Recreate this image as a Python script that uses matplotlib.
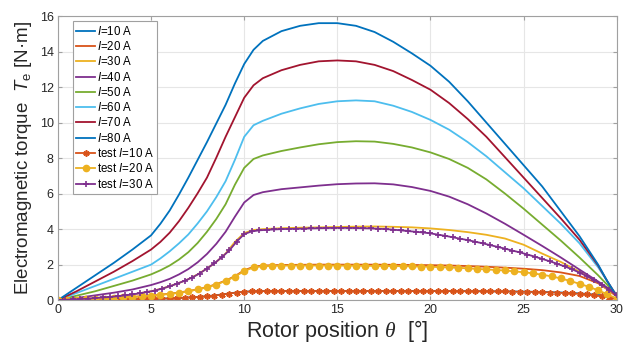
import numpy as np
import matplotlib
matplotlib.use("Agg")
import matplotlib.pyplot as plt

plt.rcParams['font.family'] = ['Liberation Sans', 'DejaVu Sans']
plt.rcParams['mathtext.fontset'] = 'custom'
plt.rcParams['mathtext.rm'] = 'Liberation Sans'
plt.rcParams['mathtext.it'] = 'Liberation Sans:italic'
plt.rcParams['mathtext.cal'] = 'Liberation Serif:italic'

# rotor angle samples for the simulated curves
theta = [0, 1, 2, 3, 4, 5, 5.5, 6, 6.5, 7, 7.5, 8, 8.5, 9, 9.5, 10, 10.5, 11, 12, 13, 14,
         15, 16, 17, 18, 19, 20, 21, 22, 23, 24, 25, 26, 27, 28, 29, 29.5, 30]

T10 = [0, 0.01, 0.02, 0.03, 0.05, 0.07, 0.08, 0.10, 0.12, 0.15, 0.18, 0.22, 0.28, 0.35, 0.42,
       0.47, 0.50, 0.51, 0.52, 0.52, 0.52, 0.52, 0.52, 0.52, 0.52, 0.52, 0.52, 0.51, 0.51,
       0.50, 0.49, 0.48, 0.46, 0.43, 0.38, 0.30, 0.22, 0.10]
T20 = [0, 0.03, 0.07, 0.12, 0.18, 0.26, 0.31, 0.36, 0.43, 0.51, 0.61, 0.73, 0.90, 1.10, 1.35,
       1.68, 1.88, 1.95, 1.98, 1.99, 2.00, 2.00, 2.00, 2.00, 1.99, 1.98, 1.97, 1.95, 1.92,
       1.88, 1.83, 1.77, 1.69, 1.56, 1.36, 0.95, 0.60, 0.20]
T30 = [0, 0.05, 0.12, 0.20, 0.32, 0.50, 0.63, 0.78, 0.97, 1.18, 1.45, 1.78, 2.15, 2.62, 3.28,
       3.78, 3.95, 4.00, 4.05, 4.08, 4.10, 4.12, 4.14, 4.15, 4.13, 4.10, 4.04, 3.95, 3.83,
       3.68, 3.47, 3.12, 2.62, 2.15, 1.60, 1.00, 0.62, 0.30]
T40 = [0, 0.12, 0.27, 0.42, 0.60, 0.85, 1.01, 1.20, 1.45, 1.75, 2.13, 2.60, 3.17, 3.85, 4.70,
       5.50, 5.92, 6.08, 6.25, 6.35, 6.45, 6.53, 6.57, 6.58, 6.52, 6.37, 6.15, 5.83, 5.40,
       4.88, 4.30, 3.68, 3.05, 2.40, 1.72, 1.05, 0.70, 0.35]
T50 = [0, 0.25, 0.50, 0.80, 1.10, 1.45, 1.68, 1.95, 2.29, 2.70, 3.22, 3.85, 4.57, 5.40, 6.50,
       7.45, 7.95, 8.15, 8.40, 8.60, 8.78, 8.90, 8.95, 8.93, 8.80, 8.60, 8.32, 7.95, 7.45,
       6.80, 6.00, 5.15, 4.25, 3.35, 2.40, 1.40, 0.85, 0.30]
T60 = [0, 0.40, 0.80, 1.20, 1.60, 2.00, 2.35, 2.75, 3.20, 3.70, 4.32, 5.00, 5.80, 6.70, 7.90,
       9.20, 9.85, 10.10, 10.50, 10.80, 11.05, 11.20, 11.25, 11.20, 10.95, 10.60, 10.15, 9.60,
       8.90, 8.10, 7.20, 6.30, 5.30, 4.30, 3.20, 1.85, 1.05, 0.25]
T70 = [0, 0.50, 1.05, 1.60, 2.20, 2.85, 3.28, 3.80, 4.45, 5.20, 6.02, 6.90, 8.02, 9.20, 10.30,
       11.40, 12.10, 12.50, 12.95, 13.25, 13.45, 13.50, 13.45, 13.25, 12.90, 12.40, 11.85,
       11.10, 10.20, 9.20, 8.05, 6.90, 5.75, 4.60, 3.40, 1.95, 1.05, 0.22]
T80 = [0, 0.70, 1.40, 2.10, 2.85, 3.65, 4.30, 5.05, 5.95, 6.90, 7.90, 8.90, 9.95, 11.00, 12.20,
       13.30, 14.10, 14.60, 15.15, 15.45, 15.60, 15.60, 15.45, 15.10, 14.55, 13.90, 13.20,
       12.30, 11.20, 10.00, 8.80, 7.60, 6.40, 5.00, 3.60, 2.00, 1.05, 0.20]

# measured (test) points
theta_t10 = np.linspace(0, 30, 76)
test10 = [0.00, 0.00, 0.01, 0.01, 0.01, 0.02, 0.02, 0.03, 0.03, 0.04, 0.05, 0.05, 0.06, 0.07,
          0.08, 0.10, 0.11, 0.13, 0.15, 0.18, 0.21, 0.25, 0.31, 0.37, 0.43, 0.47, 0.49, 0.50,
          0.51, 0.51, 0.52, 0.51, 0.52, 0.51, 0.52, 0.51, 0.52, 0.51, 0.52, 0.51, 0.52, 0.51,
          0.52, 0.51, 0.52, 0.51, 0.52, 0.51, 0.51, 0.51, 0.51, 0.51, 0.51, 0.51, 0.50, 0.50,
          0.50, 0.50, 0.50, 0.49, 0.49, 0.48, 0.47, 0.47, 0.46, 0.45, 0.43, 0.42, 0.40, 0.38,
          0.35, 0.32, 0.27, 0.21, 0.14, 0.05]
theta_t20 = np.linspace(0, 30, 61)
test20 = [0.00, 0.01, 0.03, 0.05, 0.07, 0.09, 0.12, 0.15, 0.18, 0.22, 0.26, 0.30, 0.35, 0.42,
          0.50, 0.60, 0.72, 0.88, 1.08, 1.32, 1.64, 1.84, 1.91, 1.93, 1.94, 1.95, 1.95, 1.95,
          1.95, 1.95, 1.95, 1.94, 1.94, 1.93, 1.93, 1.92, 1.92, 1.91, 1.90, 1.89, 1.88, 1.86,
          1.84, 1.82, 1.79, 1.76, 1.73, 1.70, 1.67, 1.62, 1.57, 1.51, 1.43, 1.34, 1.22, 1.08,
          0.92, 0.75, 0.55, 0.33, 0.08]
theta_t30 = np.linspace(0, 30, 76)
test30 = [0.00, 0.02, 0.04, 0.06, 0.08, 0.12, 0.15, 0.18, 0.22, 0.27, 0.32, 0.39, 0.46, 0.54,
          0.65, 0.78, 0.93, 1.09, 1.27, 1.50, 1.78, 2.08, 2.42, 2.80, 3.30, 3.72, 3.87, 3.93,
          3.96, 3.98, 4.00, 4.01, 4.02, 4.03, 4.04, 4.05, 4.06, 4.07, 4.07, 4.07, 4.06, 4.05,
          4.04, 4.02, 4.00, 3.97, 3.93, 3.89, 3.85, 3.81, 3.76, 3.69, 3.62, 3.54, 3.46, 3.38,
          3.29, 3.20, 3.10, 3.00, 2.90, 2.79, 2.69, 2.57, 2.45, 2.32, 2.19, 2.05, 1.90, 1.74,
          1.55, 1.35, 1.12, 0.87, 0.58, 0.28]

labels = ['10', '20', '30', '40', '50', '60', '70', '80']
colors = ['#0072BD', '#D95319', '#EDB120', '#7E2F8E', '#77AC30', '#4DBEEE', '#A2142F', '#0072BD']
curves = [T10, T20, T30, T40, T50, T60, T70, T80]

fig = plt.figure(figsize=(6.23, 3.49), dpi=100)
ax = fig.add_axes([0.093, 0.140, 0.897, 0.814])

for lab, c, y in zip(labels, colors, curves):
    ax.plot(theta, y, color=c, lw=1.3, label='$I$=' + lab + ' A')

ax.plot(theta_t10, test10, color='#D95319', lw=1.3, marker=(6, 2, 0), ms=4.5, mew=1.2,
        label='test $I$=10 A')
ax.plot(theta_t20, test20, color='#EDB120', lw=1.3, marker='o', ms=4.5, label='test $I$=20 A')
ax.plot(theta_t30, test30, color='#7E2F8E', lw=1.3, marker='+', ms=4.5, mew=1.2,
        label='test $I$=30 A')

ax.set_xlim(0, 30)
ax.set_ylim(0, 16)
ax.set_xticks([0, 5, 10, 15, 20, 25, 30])
ax.set_yticks(np.arange(0, 17, 2))
ax.grid(True, color='#e6e6e6', lw=0.8)
ax.set_axisbelow(True)
for s in ax.spines.values():
    s.set_color('#a0a0a0')
    s.set_linewidth(0.8)
ax.tick_params(direction='in', top=True, right=True, length=3, color='#a0a0a0',
               labelsize=9, labelcolor='#262626', pad=3)

ax.set_xlabel(r'Rotor position $\mathcal{\theta}$  [°]', fontsize=15.5, color='#262626', labelpad=1)
ax.set_ylabel(r'Electromagnetic torque  $T_{\rm e}$ [N·m]', fontsize=13.5, color='#262626', labelpad=4)

leg = ax.legend(loc='upper left', bbox_to_anchor=(0.027, 0.982), fontsize=8.3, frameon=True,
                fancybox=False, edgecolor='#a0a0a0', framealpha=1, handlelength=1.6,
                handletextpad=0.15, labelspacing=0.2, borderpad=0.3, borderaxespad=0)
leg.get_frame().set_linewidth(0.8)

fig.savefig('out.png', dpi=100)
